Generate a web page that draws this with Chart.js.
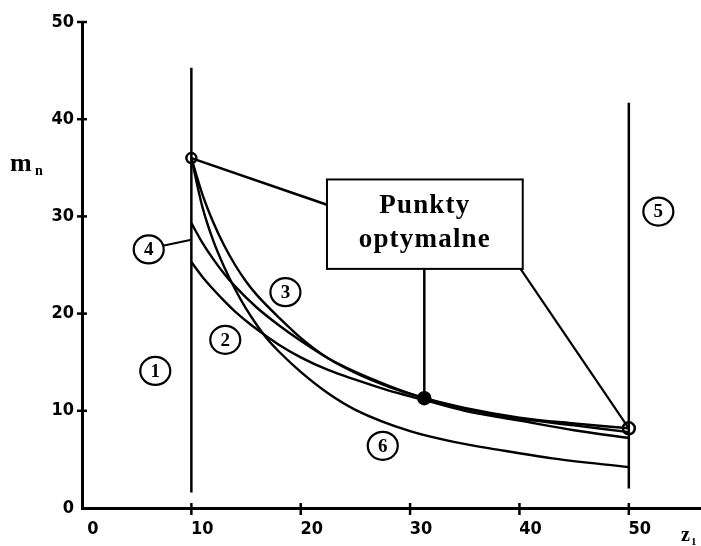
<!DOCTYPE html>
<html>
<head>
<meta charset="utf-8">
<script src="https://cdn.jsdelivr.net/npm/chart.js@4.4.0/dist/chart.umd.min.js"></script>
<style>
  html, body { margin: 0; padding: 0; background: #fff; }
</style>
</head>
<body>
<canvas id="chart" width="701" height="546"></canvas>
<script>
// axis ticks
const xTicks = [0, 10, 20, 30, 40, 50];
const yTicks = [0, 10, 20, 30, 40, 50];

// curve 3 (upper one from the optimum at z=10)
const curve3X = [10, 11, 12, 13, 14, 15, 16, 18, 20, 22.5, 25, 28, 31, 35, 40, 45, 50];
const curve3Y = [36, 32.3, 29.4, 27, 25, 23.3, 21.9, 19.6, 17.5, 15.4, 13.9, 12.5, 11.4, 10.3, 9.3, 8.7, 8.2];

// curve 6 (steep, ends lowest)
const curve6X = [10, 11, 12, 13, 14, 15, 16, 17, 18, 20, 22.5, 25, 30, 34, 38, 43, 50];
const curve6Y = [36, 31, 27.5, 24.8, 22.5, 20.5, 18.8, 17.3, 16.1, 14, 11.8, 10.1, 7.9, 6.8, 6.0, 5.1, 4.2];

// curve 4 (starts at ~29)
const curve4X = [10, 11, 12, 13, 14, 16, 18, 20, 22.5, 25, 28, 31, 35, 40, 45, 50];
const curve4Y = [29.3, 27.3, 25.6, 24.1, 22.8, 20.6, 18.8, 17.2, 15.4, 14, 12.6, 11.4, 10.2, 9.2, 8.5, 7.8];

// curve 2 (starts at ~25)
const curve2X = [10, 11, 12, 13, 14, 15.5, 18, 20, 22.5, 25, 28, 31, 35, 40, 45, 50];
const curve2Y = [25.3, 23.8, 22.5, 21.3, 20.2, 18.8, 16.8, 15.5, 14.2, 13.2, 12.1, 11.2, 10, 9, 8, 7.2];

// limits 1 and 5
const limit1X = [10, 10];
const limit1Y = [1.6, 45.3];
const limit5X = [50, 50];
const limit5Y = [2, 41.7];

// optimal points
const optX = [10, 31.3, 50];
const optY = [36, 11.3, 8.2];

const pts = (xs, ys) => xs.map((x, i) => ({ x: x, y: ys[i] }));

const lineSet = (xs, ys, w) => ({
  data: pts(xs, ys),
  showLine: true,
  borderColor: "#000",
  borderWidth: w,
  pointRadius: 0,
  cubicInterpolationMode: "monotone",
  fill: false
});

// annotation bits (data coordinates)
const boxX = [22.4, 40.3];
const boxY = [24.6, 33.8];
const leader1X = [10, 22.4];
const leader1Y = [36, 31.2];
const leader2X = [31.3, 31.3];
const leader2Y = [24.6, 11.3];
const leader3X = [40.1, 50];
const leader3Y = [24.6, 8.2];
const leader4X = [7.5, 10];
const leader4Y = [27.0, 27.6];

const tagText = ["1", "2", "3", "4", "5", "6"];
const tagX = [6.7, 13.1, 18.6, 6.1, 52.7, 27.5];
const tagY = [14.1, 17.3, 22.2, 26.6, 30.5, 6.4];

const annot = {
  id: "annot",
  afterDatasetsDraw(chart) {
    const ctx = chart.ctx;
    const sx = chart.scales.x, sy = chart.scales.y;
    const ax = sx.getPixelForValue(0), ay = sy.getPixelForValue(0);
    ctx.save();
    ctx.strokeStyle = "#000";
    ctx.fillStyle = "#000";

    // tick marks crossing the axes
    ctx.lineWidth = 2.5;
    yTicks.slice(1).forEach(v => {
      const py = sy.getPixelForValue(v);
      ctx.beginPath();
      ctx.moveTo(ax - 5, py);
      ctx.lineTo(ax + 5, py);
      ctx.stroke();
    });
    xTicks.slice(1).forEach(v => {
      const px = sx.getPixelForValue(v);
      ctx.beginPath();
      ctx.moveTo(px, ay - 5);
      ctx.lineTo(px, ay + 7);
      ctx.stroke();
    });

    // box
    const bx0 = sx.getPixelForValue(boxX[0]), bx1 = sx.getPixelForValue(boxX[1]);
    const by0 = sy.getPixelForValue(boxY[1]), by1 = sy.getPixelForValue(boxY[0]);
    ctx.fillStyle = "#fff";
    ctx.fillRect(bx0, by0, bx1 - bx0, by1 - by0);
    ctx.lineWidth = 2;
    ctx.strokeRect(bx0, by0, bx1 - bx0, by1 - by0);
    ctx.fillStyle = "#000";
    ctx.font = "bold 27px 'Liberation Serif'";
    ctx.letterSpacing = "1.2px";
    ctx.textAlign = "center";
    ctx.textBaseline = "alphabetic";
    const cx = (bx0 + bx1) / 2;
    ctx.fillText("Punkty", cx, by0 + 34);
    ctx.fillText("optymalne", cx, by0 + 68);
    ctx.letterSpacing = "0px";

    // numbered circles
    ctx.lineWidth = 2.2;
    ctx.font = "bold 19px 'Liberation Serif'";
    ctx.textBaseline = "middle";
    tagText.forEach((t, i) => {
      const px = sx.getPixelForValue(tagX[i]), py = sy.getPixelForValue(tagY[i]);
      ctx.beginPath();
      ctx.ellipse(px, py, 15, 14, 0, 0, Math.PI * 2);
      ctx.fillStyle = "#fff";
      ctx.fill();
      ctx.stroke();
      ctx.fillStyle = "#000";
      ctx.fillText(t, px, py + 1);
    });

    // axis titles
    ctx.textAlign = "left";
    ctx.textBaseline = "alphabetic";
    ctx.font = "bold 26px 'Liberation Serif'";
    ctx.fillText("m", 10, 171);
    ctx.font = "bold 14px 'Liberation Serif'";
    ctx.fillText("n", 35, 175);
    ctx.font = "bold 20px 'Liberation Serif'";
    ctx.fillText("z", 681, 541);
    ctx.font = "bold 11px 'Liberation Serif'";
    ctx.fillText("1", 691, 545);
    ctx.restore();
  }
};

const ctx = document.getElementById("chart");

new Chart(ctx, {
  type: "scatter",
  data: {
    datasets: [
      lineSet(limit1X, limit1Y, 2.5),
      lineSet(limit5X, limit5Y, 2.5),
      lineSet(curve6X, curve6Y, 2.4),
      lineSet(curve2X, curve2Y, 2.4),
      lineSet(curve4X, curve4Y, 2.4),
      lineSet(curve3X, curve3Y, 2.4),
      lineSet(leader1X, leader1Y, 2.5),
      lineSet(leader2X, leader2Y, 2.5),
      lineSet(leader3X, leader3Y, 2.2),
      lineSet(leader4X, leader4Y, 2),
      {
        data: pts(optX, optY),
        showLine: false,
        pointRadius: [5, 6, 6],
        pointBackgroundColor: ["#fff", "#000", "#fff"],
        pointBorderColor: "#000",
        pointBorderWidth: 2.5
      }
    ]
  },
  options: {
    responsive: false,
    animation: false,
    devicePixelRatio: 1,
    layout: { autoPadding: false, padding: { top: 22, left: 0, right: 0, bottom: 0 } },
    plugins: {
      legend: { display: false },
      tooltip: { enabled: false }
    },
    scales: {
      x: {
        type: "linear",
        min: 0,
        max: 56.6,
        afterBuildTicks: (scale) => { scale.ticks = xTicks.map(v => ({ value: v })); },
        afterFit: (scale) => { scale.height = 38; },
        grid: { display: false, drawTicks: false },
        border: { display: true, color: "#000", width: 3 },
        ticks: {
          color: "#000",
          padding: 11,
          labelOffset: 11,
          maxRotation: 0,
          font: { family: "'DejaVu Sans Condensed'", weight: "bold", size: 18 }
        }
      },
      y: {
        min: 0,
        max: 50,
        afterBuildTicks: (scale) => { scale.ticks = yTicks.map(v => ({ value: v })); },
        afterFit: (scale) => { scale.width = 82; },
        grid: { display: false, drawTicks: false },
        border: { display: true, color: "#000", width: 3 },
        ticks: {
          color: "#000",
          padding: 8,
          font: { family: "'DejaVu Sans Condensed'", weight: "bold", size: 18 }
        }
      }
    }
  },
  plugins: [annot]
});
</script>
</body>
</html>
